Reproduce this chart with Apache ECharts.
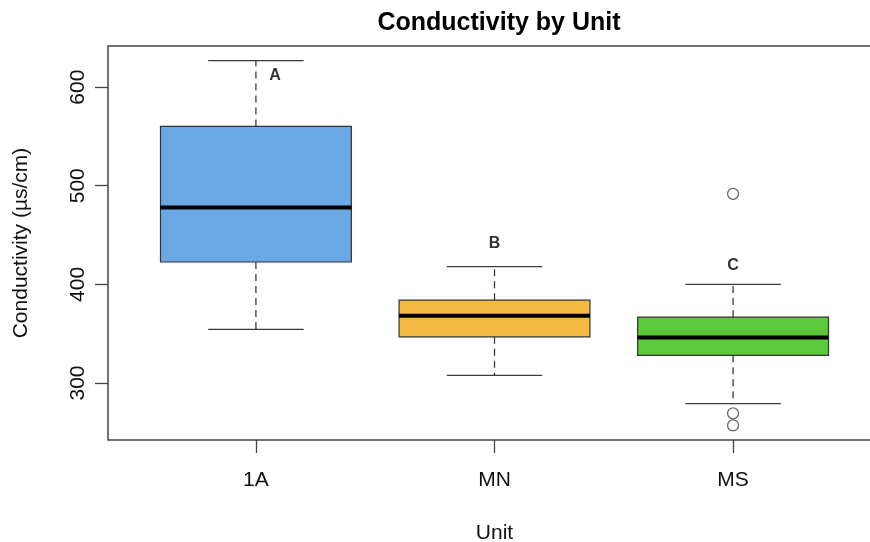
<!DOCTYPE html>
<html>
<head>
<meta charset="utf-8">
<script src="https://cdn.jsdelivr.net/npm/echarts@6/dist/echarts.min.js"></script>
<style>
  html, body { margin: 0; padding: 0; background: #fff; }
  #chart { width: 870px; height: 542px; }
</style>
</head>
<body>
<div id="chart"></div>
<script>
// Five-number summaries per unit (µs/cm)
const units = ['1A', 'MN', 'MS'];
const whiskerLow = [354.3, 307.8, 279.1];
const quartile1 = [422.7, 346.8, 328.1];
const medians = [477.9, 368.1, 346.1];
const quartile3 = [560.2, 384.0, 366.8];
const whiskerHigh = [626.9, 417.9, 400.0];

// Individual outlying readings
const outlierUnit = ['MS', 'MS', 'MS'];
const outlierValue = [491.8, 269.2, 257.0];

// Significance group letters
const groupLetters = ['A', 'B', 'C'];
const letterX = [1.08, 2, 3];
const letterY = [611.7, 441.0, 418.6];

const yTicks = [300, 400, 500, 600];
const boxColors = ['#6aa9e6', '#f5b944', '#5cc83c'];

const font = '"Liberation Sans", Arial, Helvetica, sans-serif';

const boxRows = units.map((u, i) => [i + 1, whiskerLow[i], quartile1[i], medians[i], quartile3[i], whiskerHigh[i], i]);
const outlierRows = outlierValue.map((v, i) => [units.indexOf(outlierUnit[i]) + 1, v]);
const letterRows = groupLetters.map((l, i) => [letterX[i], letterY[i], l]);

function renderBox(params, api) {
  const x = api.value(0);
  const idx = api.value(6);
  const halfBox = 0.4, halfCap = 0.2;
  const pLow = api.coord([x, api.value(1)]);
  const pQ1 = api.coord([x, api.value(2)]);
  const pMed = api.coord([x, api.value(3)]);
  const pQ3 = api.coord([x, api.value(4)]);
  const pHigh = api.coord([x, api.value(5)]);
  const left = api.coord([x - halfBox, 0])[0];
  const right = api.coord([x + halfBox, 0])[0];
  const capL = api.coord([x - halfCap, 0])[0];
  const capR = api.coord([x + halfCap, 0])[0];
  const cx = pMed[0];
  const lineCol = '#3a3a3a';
  const dash = { stroke: lineCol, lineWidth: 1.3, lineDash: [7, 5] };
  const solid = { stroke: lineCol, lineWidth: 1.3 };
  return {
    type: 'group',
    children: [
      { type: 'line', shape: { x1: cx, y1: pQ1[1], x2: cx, y2: pLow[1] }, style: dash },
      { type: 'line', shape: { x1: cx, y1: pQ3[1], x2: cx, y2: pHigh[1] }, style: dash },
      { type: 'line', shape: { x1: capL, y1: pLow[1], x2: capR, y2: pLow[1] }, style: solid },
      { type: 'line', shape: { x1: capL, y1: pHigh[1], x2: capR, y2: pHigh[1] }, style: solid },
      { type: 'rect', shape: { x: left, y: pQ3[1], width: right - left, height: pQ1[1] - pQ3[1] },
        style: { fill: boxColors[idx], stroke: '#333', lineWidth: 1.2 } },
      { type: 'line', shape: { x1: left, y1: pMed[1], x2: right, y2: pMed[1] },
        style: { stroke: '#000', lineWidth: 4 } }
    ]
  };
}

const chart = echarts.init(document.getElementById('chart'), null, { renderer: 'canvas' });
chart.setOption({
  backgroundColor: '#fff',
  animation: false,
  title: {
    text: 'Conductivity by Unit',
    left: 494, top: 6, textAlign: 'center',
    textStyle: { fontFamily: font, fontWeight: 'bold', fontSize: 25, color: '#000' }
  },
  grid: {
    left: 108, top: 46, width: 773, height: 394,
    outerBoundsMode: 'none', containLabel: false,
    show: true, borderColor: '#444', borderWidth: 1.5, backgroundColor: 'transparent'
  },
  xAxis: {
    type: 'value', min: 0.38, max: 3.62,
    name: 'Unit', nameLocation: 'middle', nameGap: 83,
    nameTextStyle: { fontFamily: font, fontSize: 21, color: '#111' },
    axisLine: { show: false },
    splitLine: { show: false },
    axisTick: { show: true, customValues: [1, 2, 3], length: 13, lineStyle: { color: '#444', width: 1.3 } },
    axisLabel: {
      customValues: [1, 2, 3], margin: 30,
      fontFamily: font, fontSize: 21, color: '#111',
      formatter: v => units[Math.round(v) - 1]
    }
  },
  yAxis: {
    type: 'value', min: 242.2, max: 641.7,
    name: 'Conductivity (µs/cm)', nameLocation: 'middle', nameGap: 76, nameRotate: 90,
    nameTextStyle: { fontFamily: font, fontSize: 21, color: '#111' },
    axisLine: { show: false },
    splitLine: { show: false },
    axisTick: { show: true, customValues: yTicks, length: 13, lineStyle: { color: '#444', width: 1.3 } },
    axisLabel: {
      customValues: yTicks, rotate: 90, margin: 19,
      fontFamily: font, fontSize: 21, color: '#111'
    }
  },
  series: [
    {
      type: 'custom',
      renderItem: renderBox,
      data: boxRows,
      encode: { x: 0, y: [1, 2, 3, 4, 5] },
      z: 2
    },
    {
      type: 'scatter',
      data: outlierRows,
      symbol: 'circle', symbolSize: 11,
      itemStyle: { color: '#fff', borderColor: '#444', borderWidth: 1.3 },
      z: 3
    },
    {
      type: 'scatter',
      data: letterRows,
      symbolSize: 0,
      label: {
        show: true, position: 'inside',
        formatter: p => p.value[2],
        fontFamily: font, fontWeight: 'bold', fontSize: 16, color: '#000'
      },
      z: 4
    }
  ]
});
</script>
</body>
</html>
